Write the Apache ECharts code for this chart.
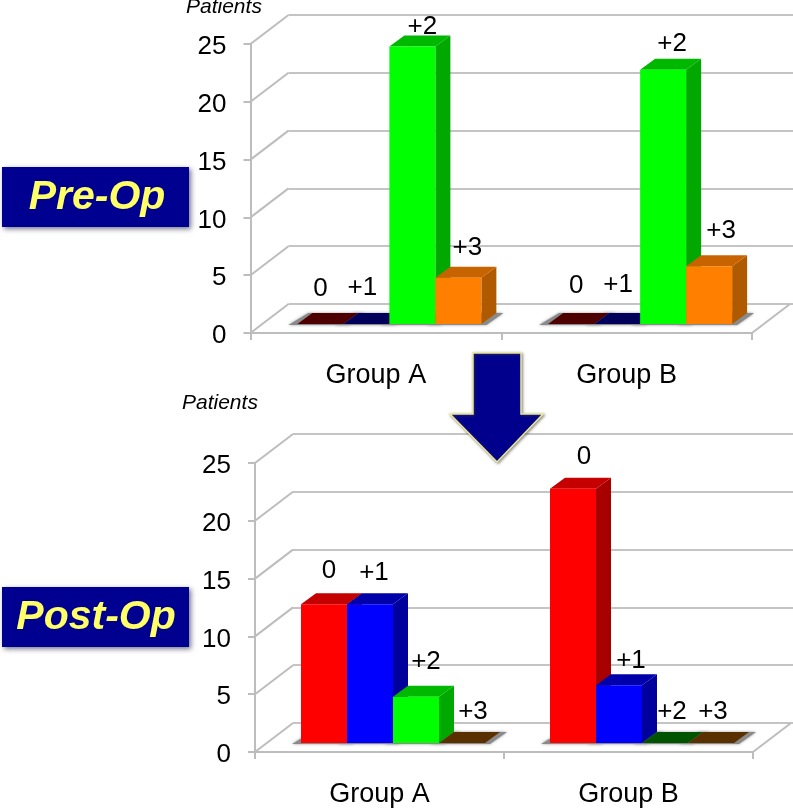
<!DOCTYPE html>
<html>
<head>
<meta charset="utf-8">
<style>html,body{margin:0;padding:0;background:#fff}#c{width:793px;height:808px}</style>
<script src="https://cdn.jsdelivr.net/npm/echarts@6/dist/echarts.min.js"></script>
</head>
<body>
<div id="c"></div>
<script>
const categories = ['Group A', 'Group B'];
const grades = ['0', '+1', '+2', '+3'];
const yTicks = [0, 5, 10, 15, 20, 25];
const preOpGroupA = [0, 0, 24, 4];
const preOpGroupB = [0, 0, 22, 5];
const postOpGroupA = [12, 12, 4, 0];
const postOpGroupB = [22, 5, 0, 0];

const font = '"Liberation Sans", Arial, sans-serif';
const gradeColors = [
  { front: '#ff0000', top: '#c40000', side: '#a80000', flat: '#4e0000' },
  { front: '#0000ff', top: '#0000aa', side: '#00009c', flat: '#00005c' },
  { front: '#00ff00', top: '#00b800', side: '#00a800', flat: '#005400' },
  { front: '#ff8000', top: '#c86400', side: '#b05a00', flat: '#5a3000' }
];
const BAR_W = 46, BAR_DX = 15, BAR_DY = 11, FLOOR_LIFT = 9, BAR_SHIFT = 13.5;
const WALL_DX = 38, WALL_DY = 29;

// label nudges [dx, dy] from the top-back centre of each bar
const preNudges = [
  [[-15, -24], [-19, -25], [-5, -9], [-6, -19]],
  [[-10, -27], [-14, -28], [-6, -15], [-3, -24]]
];
const postNudges = [
  [[-10, -22], [-11, -20], [-5, -24], [-4, -20]],
  [[-4, -21], [-3, -13], [-8, -20], [-13, -20]]
];

function barGeom(api) {
  const c = api.value(0), v = api.value(2), g = api.value(1);
  const centre = api.coord([c, 0]);
  const topP = api.coord([c, v]);
  const x = centre[0] + BAR_SHIFT + (g - 2) * BAR_W;
  return { x, base: centre[1] - FLOOR_LIFT, top: topP[1] - FLOOR_LIFT, v, g, c };
}
const poly = (points, fill, extra) => Object.assign({ type: 'polygon', shape: { points }, style: { fill } }, extra || {});

function renderShadow(params, api) {
  const b = barGeom(api);
  return {
    type: 'polygon',
    shape: { points: [
      [b.x - 9, b.base + 1], [b.x + BAR_W + 5, b.base + 1],
      [b.x + BAR_W + BAR_DX + 7, b.base - BAR_DY], [b.x + BAR_DX - 4, b.base - BAR_DY]
    ] },
    style: { fill: '#8a8a8a', shadowBlur: 3, shadowColor: '#999' }
  };
}

function renderBar(params, api) {
  const b = barGeom(api), col = gradeColors[b.g];
  const x = b.x, r = x + BAR_W, t = b.top, bs = b.base;
  const topFace = [[x, t], [r, t], [r + BAR_DX, t - BAR_DY], [x + BAR_DX, t - BAR_DY]];
  if (b.v === 0) return poly(topFace, col.flat);
  return {
    type: 'group',
    children: [
      poly([[r, bs], [r + BAR_DX, bs - BAR_DY], [r + BAR_DX, t - BAR_DY], [r, t]], col.side),
      poly(topFace, col.top),
      { type: 'rect', shape: { x, y: t, width: BAR_W, height: bs - t }, style: { fill: col.front } }
    ]
  };
}

function labelRenderer(nudges) {
  return function (params, api) {
    const b = barGeom(api), n = nudges[b.c][b.g];
    return {
      type: 'text',
      x: b.x + BAR_W / 2 + BAR_DX + n[0],
      y: b.top - BAR_DY + n[1],
      style: {
        text: grades[b.g], font: '26px ' + font, fill: '#000',
        align: 'center', verticalAlign: 'middle'
      }
    };
  };
}

function renderWall(params, api) {
  const v = api.value(1);
  const y = api.coord([0, v])[1], cs = params.coordSys;
  const line = (x) => ({
    type: 'line',
    shape: { x1: x, y1: y, x2: x + WALL_DX, y2: y - WALL_DY },
    style: { stroke: '#bdbdbd', lineWidth: 2 }
  });
  const children = [line(cs.x)];
  if (v === 0) children.push(line(cs.x + cs.width));
  return { type: 'group', children };
}

const xAxisFor = (gridIndex) => ({
  gridIndex, type: 'category', data: categories, boundaryGap: true,
  axisLine: { show: true, lineStyle: { color: '#bdbdbd', width: 2 } },
  axisTick: { show: true, alignWithLabel: false, length: 7, lineStyle: { color: '#bdbdbd', width: 2 } },
  axisLabel: { color: '#000', fontSize: 27, fontFamily: font, margin: 29 },
  splitLine: { show: false }
});
const yAxisFor = (gridIndex) => ({
  gridIndex, type: 'value', min: 0, max: 25, interval: 5,
  axisLine: { show: true, lineStyle: { color: '#bdbdbd', width: 2 } },
  axisTick: { show: true, length: 7, lineStyle: { color: '#bdbdbd', width: 2 } },
  axisLabel: { color: '#000', fontSize: 26, fontFamily: font, margin: 24, verticalAlign: 'top', padding: [-10, 0, 0, 0] },
  splitLine: { show: false }
});
const backXAxis = (gridIndex) => ({
  gridIndex, type: 'category', data: categories, show: false
});
const backYAxis = (gridIndex) => ({
  gridIndex, type: 'value', min: 0, max: 25, interval: 5,
  axisLine: { show: false }, axisTick: { show: false }, axisLabel: { show: false },
  splitLine: { show: true, lineStyle: { color: '#c4c4c4', width: 2 } }
});

const gridBox = (left, top, right, bottom) => ({
  left, top, width: right - left, height: bottom - top, containLabel: false
});

function chartSeries(axisIndex, groupA, groupB, nudges) {
  const rows = [];
  [groupA, groupB].forEach((vals, c) => vals.forEach((v, g) => rows.push([c, g, v])));
  const base = { type: 'custom', xAxisIndex: axisIndex, yAxisIndex: axisIndex, encode: { x: 0, y: 2 }, clip: false, silent: true };
  const out = [];
  out.push({
    type: 'custom', xAxisIndex: axisIndex, yAxisIndex: axisIndex, encode: { x: 0, y: 1 },
    silent: true, clip: false, z: 1,
    data: yTicks.map(v => [0, v]), renderItem: renderWall
  });
  out.push(Object.assign({}, base, { name: 'floor shadow', z: 2, data: rows, renderItem: renderShadow }));
  grades.forEach((g, gi) => {
    out.push(Object.assign({}, base, {
      name: g, z: 3 + gi, data: rows.filter(r => r[1] === gi), renderItem: renderBar
    }));
  });
  out.push(Object.assign({}, base, { name: 'labels', z: 8, data: rows, renderItem: labelRenderer(nudges) }));
  return out;
}

function badge(label, top, textX) {
  return {
    type: 'group',
    children: [
      { type: 'rect', shape: { x: 2, y: top, width: 187, height: 60 },
        style: { fill: '#000090', shadowBlur: 5, shadowOffsetX: 2, shadowOffsetY: 2, shadowColor: 'rgba(60,60,90,0.7)' } },
      { type: 'text', x: textX, y: top + 31,
        style: { text: label, font: 'italic bold 41px ' + font, fill: '#ffff66', align: 'center', verticalAlign: 'middle' } }
    ]
  };
}

const patientsStyle = { fontSize: 21, fontStyle: 'italic', fontWeight: 'normal', color: '#000', fontFamily: font };
const option = {
  animation: false,
  backgroundColor: '#fff',
  title: [
    { text: 'Patients', left: 186, top: -3, padding: 0, textStyle: patientsStyle },
    { text: 'Patients', left: 182, top: 393, padding: 0, textStyle: patientsStyle }
  ],
  grid: [
    gridBox(288.5, 15, 793, 304),
    gridBox(250.5, 44, 752, 333),
    gridBox(293, 434, 793, 723),
    gridBox(255, 463, 753, 752)
  ],
  xAxis: [backXAxis(0), xAxisFor(1), backXAxis(2), xAxisFor(3)],
  yAxis: [backYAxis(0), yAxisFor(1), backYAxis(2), yAxisFor(3)],
  series: [
    ...chartSeries(1, preOpGroupA, preOpGroupB, preNudges),
    ...chartSeries(3, postOpGroupA, postOpGroupB, postNudges)
  ],
  graphic: [
    badge('Pre-Op', 167, 97),
    badge('Post-Op', 587, 96),
    { type: 'polygon', z: 100,
      shape: { points: [[473, 353], [521, 353], [521, 414], [543, 414], [497, 462], [450, 414], [473, 414]] },
      style: { fill: '#00008c', stroke: '#ece99a', lineWidth: 1.5, shadowBlur: 3, shadowColor: 'rgba(70,70,50,0.6)', shadowOffsetX: 1, shadowOffsetY: 1 } }
  ]
};
const chart = echarts.init(document.getElementById('c'), null, { renderer: 'canvas', width: 793, height: 808 });
chart.setOption(option);
</script>
</body>
</html>
